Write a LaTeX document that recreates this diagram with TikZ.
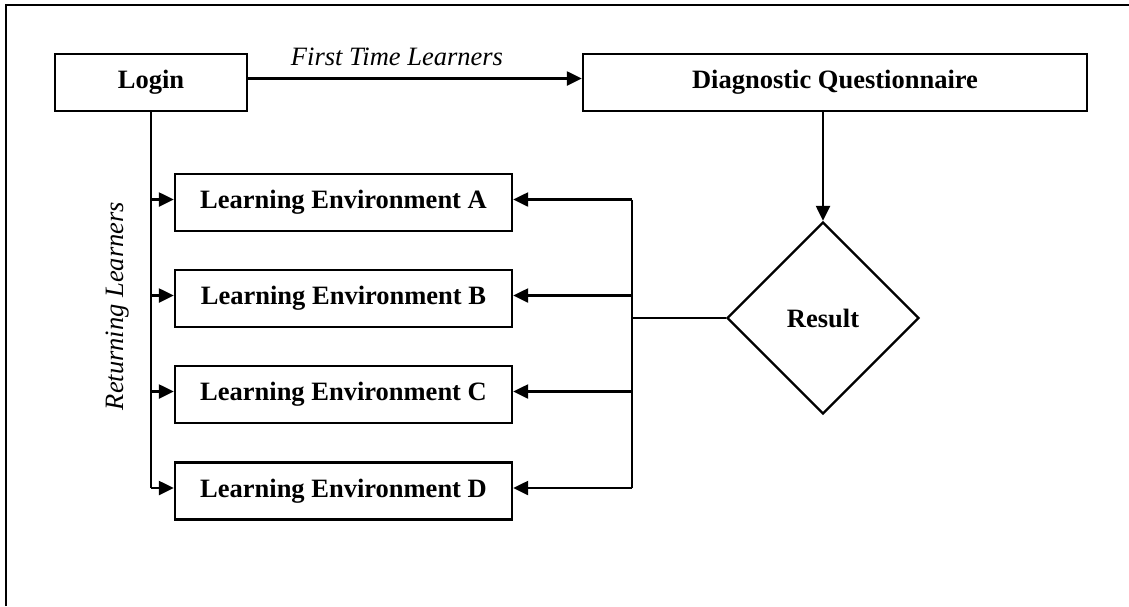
\documentclass[tikz,border=0pt]{standalone}
\usepackage{fontspec}
\setmainfont{Liberation Serif}
\usetikzlibrary{shapes.geometric,arrows.meta}
\begin{document}
\begin{tikzpicture}[x=1pt,y=-1pt,
  every node/.style={font=\fontsize{26.5}{32}\selectfont},
  box/.style={draw,line width=2.4pt,inner sep=0pt,font=\fontsize{26.5}{32}\selectfont\bfseries,minimum height=57pt},
  lebox/.style={box,minimum width=337pt},
  conn/.style={line width=2.4pt},
  arr/.style={conn,-{Triangle[length=15pt,width=14pt]}},
  lbl/.style={font=\fontsize{26.5}{32}\selectfont\itshape}]
\useasboundingbox (0,0) rectangle (1129,606);
\draw[line width=2.4pt] (6,606) -- (6,5) -- (1129,5);

\node[box,minimum width=192pt] (login) at (151,82.5) {Login};
\node[box,minimum width=504pt] (dq) at (835,82.5) {Diagnostic Questionnaire};
\node[draw,diamond,line width=2.4pt,minimum width=192pt,minimum height=192pt,inner sep=0pt,aspect=1,font=\fontsize{26.5}{32}\selectfont\bfseries] (res) at (823,318) {Result};

\node[lebox] (leA) at (343.5,202.5) {Learning Environment A};
\node[lebox] (leB) at (343.5,298.5) {Learning Environment B};
\node[lebox] (leC) at (343.5,394.5) {Learning Environment C};
\node[lebox] (leD) at (343.5,491) {Learning Environment D};

\node[lbl] (ftl) at (397,57) {First Time Learners};
\node[lbl,rotate=90] (rl) at (118,306) {Returning Learners};

\draw[arr] ([yshift=4pt]login.east) -- ([yshift=4pt]dq.west);
\draw[arr] (dq.south -| res.north) -- (res.north);

\coordinate (bus) at (632,318);
\draw[conn] (res.west) -- (bus);
\draw[conn] ([yshift=3pt]bus |- leA.east) -- ([yshift=3pt]bus |- leD.east);
\foreach \n in {leA,leB,leC,leD}{
  \draw[arr] ([yshift=3pt]bus |- \n.east) -- ([yshift=3pt]\n.east);
  \draw[arr] ([yshift=3pt]login.south |- \n.west) -- ([yshift=3pt]\n.west);
}
\draw[conn] (login.south) -- ([yshift=3pt]login.south |- leD.west);
\end{tikzpicture}
\end{document}
